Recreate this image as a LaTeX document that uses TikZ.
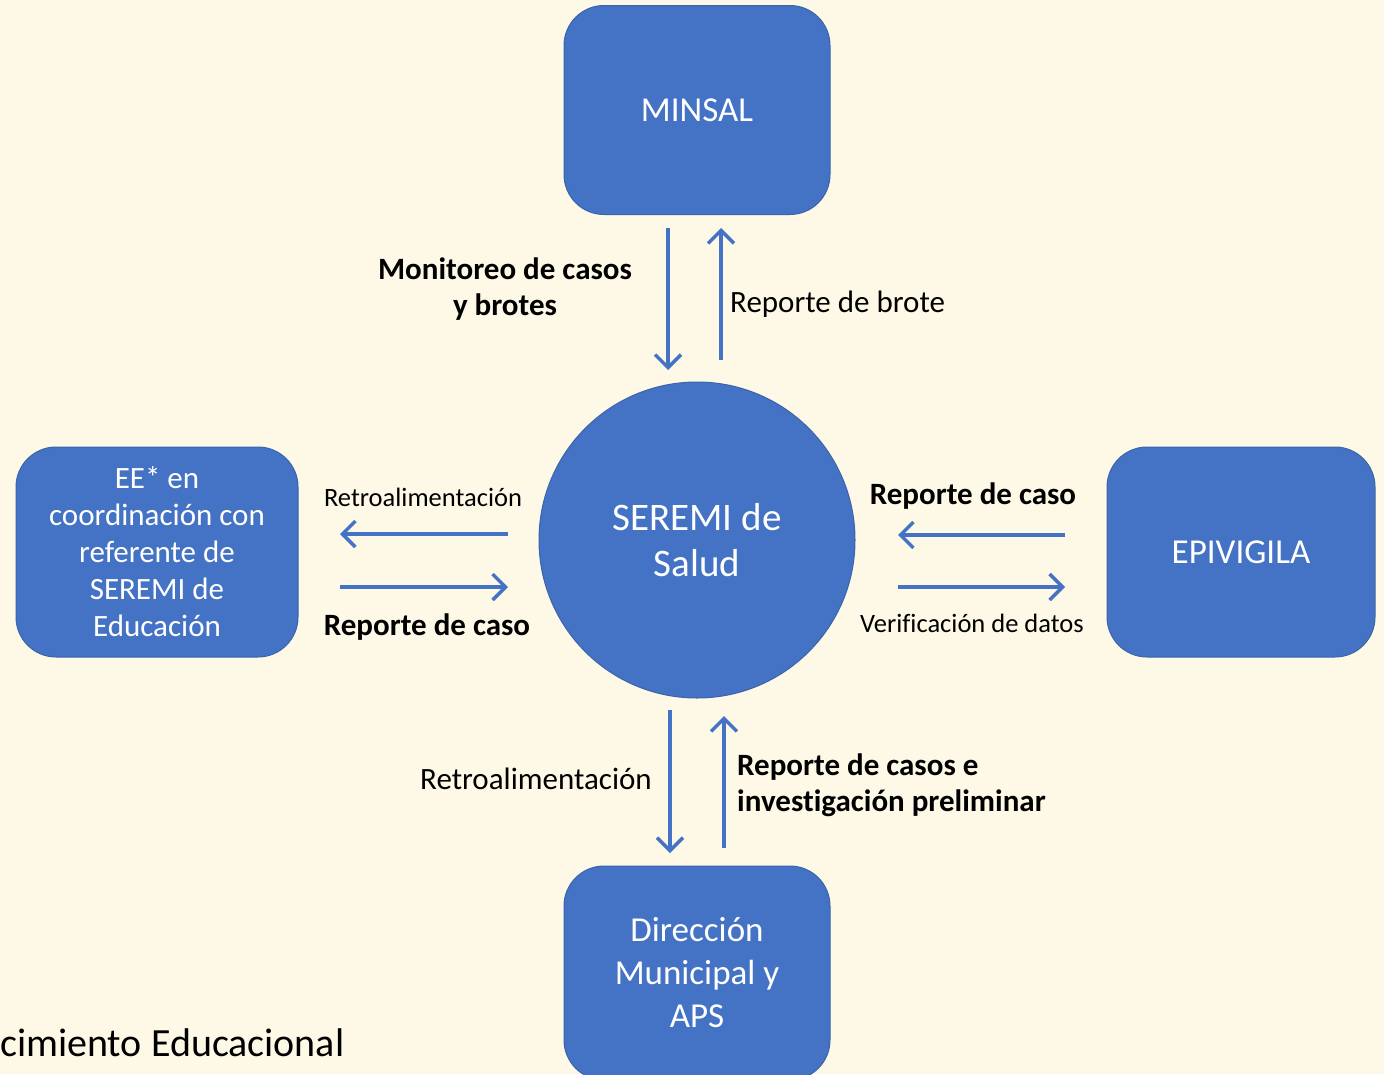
\documentclass[tikz,border=0pt]{standalone}
\usepackage{fontspec}
\setmainfont{Carlito}[Ligatures=NoCommon]
\usetikzlibrary{arrows.meta}
\definecolor{azul}{HTML}{4472C4}
\definecolor{borde}{HTML}{3B64AD}
\definecolor{fondo}{HTML}{FDF9E6}
\tikzset{
  caja/.style={draw=borde, line width=1pt, fill=azul, rounded corners=40pt, text=white, align=center, font=\fontsize{35}{43}\selectfont},
  flecha/.style={-{Straight Barb[length=13pt,width=26pt]}, line width=3.5pt, color=azul},
  rotulo/.style={font=\fontsize{31}{36}\selectfont, inner sep=0pt, align=center},
  negrita/.style={font=\fontsize{31}{36}\selectfont\bfseries, inner sep=0pt},
  chico/.style={font=\fontsize{26.5}{30}\selectfont, inner sep=0pt},
}
\begin{document}
\begin{tikzpicture}[x=1pt,y=-1pt]
\fill[fondo] (0,0) rectangle (1384,1074);
\useasboundingbox (0,0) rectangle (1384,1074);
% cajas
\node[caja, minimum width=266pt, minimum height=209pt] (minsal) at (697,110) {MINSAL};
\node[caja, circle, minimum size=316pt, font=\fontsize{39}{46}\selectfont] (seremi) at (697,540) {SEREMI de\\Salud};
\node[caja, minimum width=282pt, minimum height=210pt, font=\fontsize{31}{37}\selectfont] (ee) at (157,552) {EE* en\\coordinación con\\referente de\\SEREMI de\\Educación};
\node[caja, minimum width=268pt, minimum height=210pt] (epi) at (1241,552) {EPIVIGILA};
\node[caja, minimum width=266pt, minimum height=214pt] (dir) at (697,973) {Dirección\\Municipal y\\APS};
% puntas de las flechas
\coordinate (m1) at (668,228); \coordinate (m2) at (668,370);
\coordinate (m3) at (721,360); \coordinate (m4) at (721,228);
\coordinate (e1) at (508,534); \coordinate (e2) at (340,534);
\coordinate (e3) at (340,587); \coordinate (e4) at (508,587);
\coordinate (p1) at (1065,535); \coordinate (p2) at (898,535);
\coordinate (p3) at (898,587); \coordinate (p4) at (1065,587);
\coordinate (d1) at (670,710); \coordinate (d2) at (670,853);
\coordinate (d3) at (724,848); \coordinate (d4) at (724,716);
\draw[flecha] (m1) -- (m2);
\draw[flecha] (m3) -- (m4);
\draw[flecha] (e1) -- (e2);
\draw[flecha] (e3) -- (e4);
\draw[flecha] (p1) -- (p2);
\draw[flecha] (p3) -- (p4);
\draw[flecha] (d1) -- (d2);
\draw[flecha] (d3) -- (d4);
% rotulos
\node[negrita, align=center] (monitoreo) at (505,289) {Monitoreo de casos\\y brotes};
\node[rotulo, anchor=west] (brote) at (730,304) {Reporte de brote};
\node[chico] (retro1) at (423,497) {Retroalimentación};
\node[negrita] (caso1) at (427,627) {Reporte de caso};
\node[negrita] (caso2) at (973,496) {Reporte de caso};
\node[chico] (verif) at (972,623) {Verificación de datos};
\node[rotulo] (retro2) at (536,779) {Retroalimentación};
\node[negrita, align=left, anchor=west] (casos) at (737,785) {Reporte de casos e\\investigación preliminar};
\node[rotulo, anchor=west, font=\fontsize{40}{40}\selectfont] (pie) at (0,1043) {cimiento Educacional};
\end{tikzpicture}
\end{document}
